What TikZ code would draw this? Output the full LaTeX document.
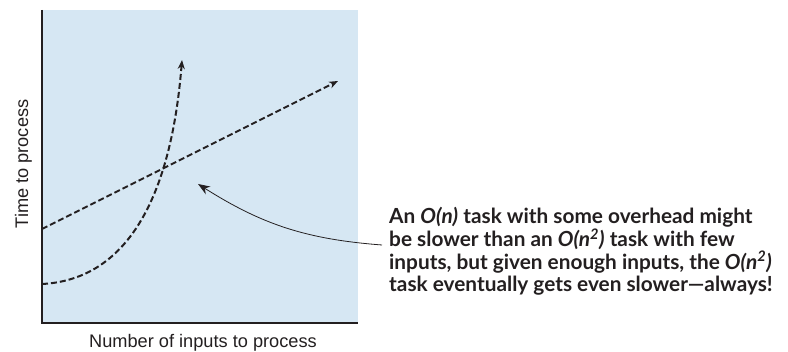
\documentclass[tikz,border=0pt]{standalone}
\usepackage{fontspec}
\setmainfont{Liberation Sans}
\newfontfamily\notefont{Lato}
\usetikzlibrary{arrows.meta}
\definecolor{plotbg}{RGB}{214,231,243}
\definecolor{ink}{RGB}{35,31,32}
\tikzset{
  trend/.style={ink, line width=2pt, dash pattern=on 6pt off 3pt, -{Stealth[length=9pt,width=7pt]}},
  axisline/.style={ink, line width=1.4pt},
  pointer/.style={ink, line width=0.8pt, -{Stealth[length=12pt,width=9pt]}},
  axislabel/.style={font=\fontsize{18.2}{20}\selectfont, text=ink, inner sep=0pt},
}
\begin{document}
\begin{tikzpicture}[x=1pt,y=-1pt]
\useasboundingbox (0,0) rectangle (788,352);
\fill[plotbg] (42,10) rectangle (358,323);
\draw[axisline] (42,10) -- (42,323) -- (358,323);
\coordinate (lin0) at (42,229);
\coordinate (lin1) at (338,81);
\coordinate (quad0) at (42,284);
\coordinate (quad1) at (182,60);
\draw[trend] (lin0) -- (lin1);
\draw[trend] (quad0) .. controls (120,280) and (170,210) .. (quad1);
\node[axislabel, anchor=base] (xlab) at (203,348) {Number of inputs to process};
\node[axislabel, rotate=90, anchor=base] (ylab) at (28,164) {Time to process};
\node[anchor=north west, align=left, inner sep=0pt, text=ink,
      font=\notefont\bfseries\fontsize{20.8}{22.6}\selectfont] (note) at (389,207.5)
  {An \textit{O(n)} task with some overhead might\\
   be slower than an \textit{O(n\textsuperscript{2})} task with few\\
   inputs, but given enough inputs, the \textit{O(n\textsuperscript{2})}\\
   task eventually gets even slower\textemdash always!};
\coordinate (tip) at (198,184);
\coordinate (tail) at (382,245);
\draw[pointer] (tail) to[bend left=14] (tip);
\end{tikzpicture}
\end{document}
